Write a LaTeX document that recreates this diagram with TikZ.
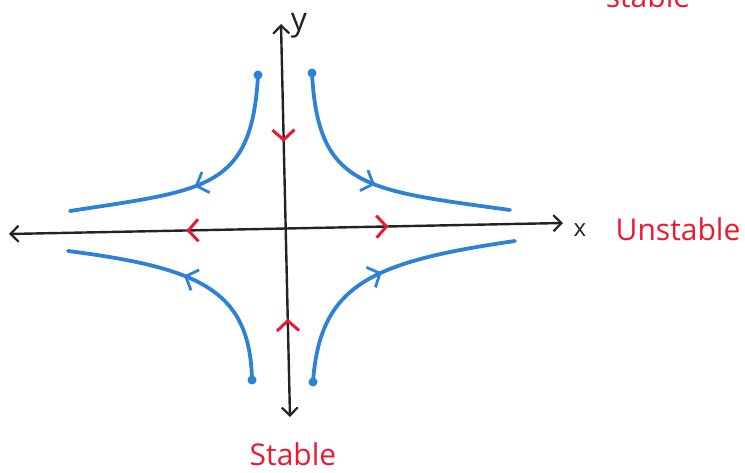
\documentclass[tikz,border=0pt]{standalone}
\usepackage{fontspec}
\setmainfont{Open Sans}
\usetikzlibrary{arrows.meta,decorations.markings}
\definecolor{traj}{RGB}{45,130,215}
\definecolor{flow}{RGB}{235,25,50}
\definecolor{axisc}{RGB}{35,35,35}
\tikzset{
  axtip/.tip={Straight Barb[length=8pt,width=16pt,line width=2.2pt]},
  redmark/.tip={Straight Barb[length=10pt,width=22pt,line width=3pt]},
  bluemark/.tip={Straight Barb[length=10pt,width=22pt,line width=2.8pt]},
  axisline/.style={draw=axisc, line width=2.4pt},
  trajline/.style={draw=traj, line width=3.8pt, line cap=round},
  dotnode/.style={circle, fill=traj, inner sep=0pt, minimum size=9pt},
  redlbl/.style={text=flow, font=\fontsize{30}{30}\selectfont, inner sep=0pt},
  blklbl/.style={text=axisc, inner sep=0pt},
  fwd/.style={postaction={decorate, decoration={markings,
      mark=at position #1 with {\arrow[traj]{bluemark}}}}}
}
\begin{document}
\begin{tikzpicture}[x=1pt,y=-1pt]
\useasboundingbox (0,0) rectangle (745,473);
% axes
\coordinate (xl) at (9,234);
\coordinate (xr) at (563,223);
\coordinate (yt) at (281,24);
\coordinate (yb) at (290,417);
\draw[axisline, {axtip}-{axtip},
  postaction={decorate, decoration={markings,
    mark=at position 0.32 with {\arrowreversed[flow]{redmark}},
    mark=at position 0.685 with {\arrow[flow]{redmark}}}}] (xl) -- (xr);
\draw[axisline, {axtip}-{axtip},
  postaction={decorate, decoration={markings,
    mark=at position 0.30 with {\arrow[flow]{redmark}},
    mark=at position 0.75 with {\arrowreversed[flow]{redmark}}}}] (yt) -- (yb);
% labels
\node[blklbl, font=\fontsize{32}{32}\selectfont, anchor=base] (ylab) at (299,31) {y};
\node[blklbl, font=\fontsize{24}{24}\selectfont, anchor=base] (xlab) at (580,237) {x};
\node[redlbl, anchor=base] (unst) at (678,241) {Unstable};
\node[redlbl, anchor=base] (stab) at (293,465) {Stable};
\node[redlbl, anchor=base] (stabtop) at (648,8) {stable};
% trajectories
\node[dotnode] (d1) at (258,75) {};
\node[dotnode] (d2) at (312,73) {};
\node[dotnode] (d3) at (252,380) {};
\node[dotnode] (d4) at (313,382) {};
\coordinate (e1) at (70,211);
\coordinate (e2) at (510,210);
\coordinate (e3) at (68,251);
\coordinate (e4) at (515,241);
\draw[trajline, fwd=0.52] (d1.center) .. controls (252,190) and (205,190) .. (e1);
\draw[trajline, fwd=0.5] (d2.center) .. controls (318,188) and (365,190) .. (e2);
\draw[trajline, fwd=0.53] (d3.center) .. controls (250,290) and (200,268) .. (e3);
\draw[trajline, fwd=0.5] (d4.center) .. controls (320,285) and (370,262) .. (e4);
\end{tikzpicture}
\end{document}
